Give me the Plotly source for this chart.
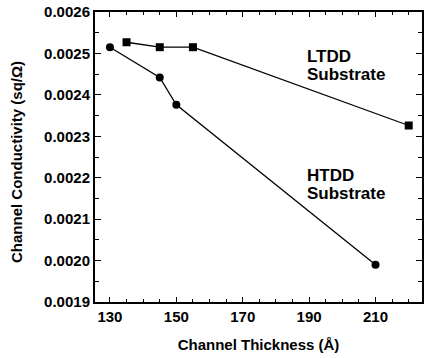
import plotly.graph_objects as go

# Data
htdd_x = [130, 145, 150, 210]
htdd_y = [0.002515, 0.002442, 0.002376, 0.001990]
ltdd_x = [135, 145, 155, 220]
ltdd_y = [0.002527, 0.002515, 0.002515, 0.002326]

x_ticks = [130, 150, 170, 190, 210]
y_ticks = [0.0019, 0.0020, 0.0021, 0.0022, 0.0023, 0.0024, 0.0025, 0.0026]

FONT = "Liberation Sans, Arial, sans-serif"
lab_font = dict(family=FONT, size=17, color="black", weight="bold")

fig = go.Figure()
fig.add_trace(go.Scatter(
    x=htdd_x, y=htdd_y, mode="lines+markers",
    line=dict(color="black", width=1.3),
    marker=dict(symbol="circle", size=8, color="black"),
    showlegend=False))
fig.add_trace(go.Scatter(
    x=ltdd_x, y=ltdd_y, mode="lines+markers",
    line=dict(color="black", width=1.3),
    marker=dict(symbol="square", size=8, color="black"),
    showlegend=False))

# series labels, one annotation per line for tight line spacing
for txt, yv in [("LTDD", 0.002517), ("Substrate", 0.0024735),
                ("HTDD", 0.002231), ("Substrate", 0.0021875)]:
    fig.add_annotation(x=189.2, y=yv, xref="x", yref="y", text=txt,
                       showarrow=False, xanchor="left", yanchor="top",
                       align="left", borderpad=0, font=lab_font)

# y-axis title as annotation (positioned like the reference)
fig.add_annotation(x=-0.2385, y=0.4828, xref="paper", yref="paper",
                   text="Channel Conductivity (sq/Ω)", textangle=-90,
                   showarrow=False, xanchor="center", yanchor="middle",
                   font=dict(family=FONT, size=15, color="black", weight="bold"))

axis_common = dict(
    showline=True, linecolor="black", linewidth=2, mirror="allticks",
    ticks="inside", tickcolor="black", showgrid=False, zeroline=False,
    tickfont=dict(family=FONT, size=15, color="black", weight="bold"),
)

fig.update_xaxes(
    range=[125.5, 224], tickvals=x_ticks, ticklen=5, tickwidth=1,
    minor=dict(dtick=5, tick0=130, ticks="inside", ticklen=3, tickcolor="black", tickwidth=1),
    title=dict(text="Channel Thickness (Å)", standoff=15,
               font=dict(family=FONT, size=15, color="black", weight="bold")),
    **axis_common)
fig.update_yaxes(
    range=[0.0019, 0.0026], tickvals=y_ticks, tickformat=".4f", ticklen=6, tickwidth=1,
    minor=dict(dtick=0.00005, tick0=0.0019, ticks="inside", ticklen=4, tickcolor="black", tickwidth=1),
    **axis_common)

fig.update_layout(
    width=424, height=358,
    margin=dict(l=95, r=2, t=12, b=56, autoexpand=False),
    plot_bgcolor="white", paper_bgcolor="white",
)

fig.write_html("out.html")
